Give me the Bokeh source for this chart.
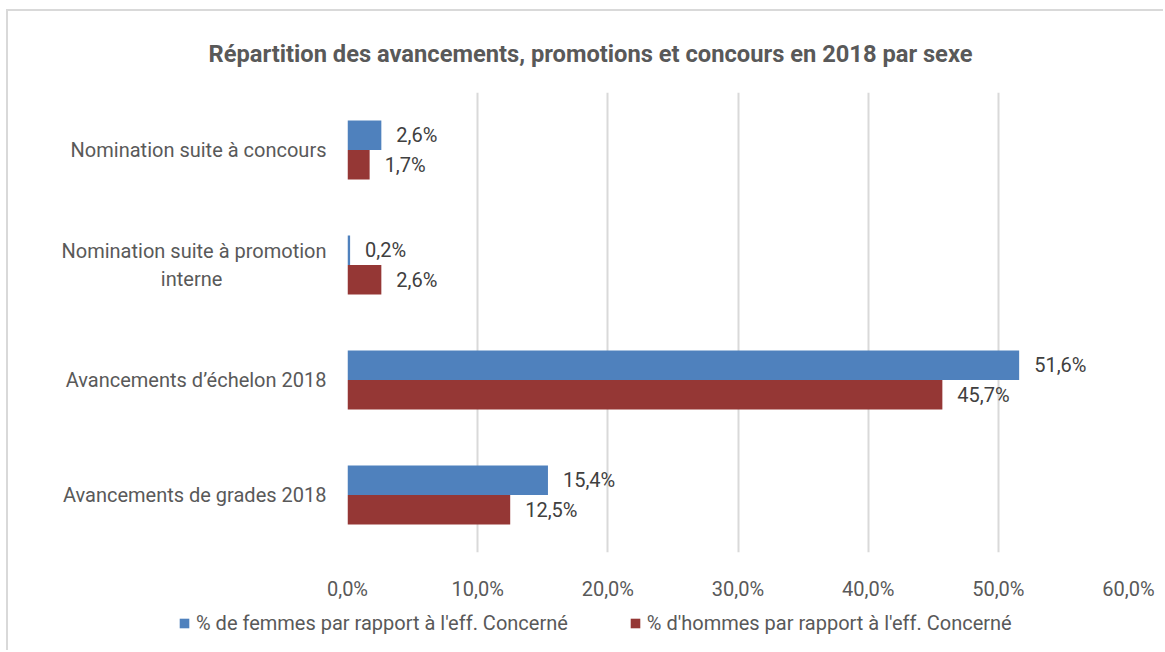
from bokeh.plotting import figure
from bokeh.models import ColumnDataSource, FixedTicker, Legend, LegendItem, Range1d
from bokeh.transform import dodge
from bokeh.core.properties import value
from bokeh.embed import file_html
from bokeh.resources import INLINE

NB = "\u00a0"
categories = ["Avancements de grades 2018", "Avancements d’échelon 2018",
              "Nomination suite à promotion\ninterne" + NB * 21,
              "Nomination suite à concours"]
femmes = [15.4, 51.6, 0.2, 2.6]
hommes = [12.5, 45.7, 2.6, 1.7]
series_names = ["% de femmes par rapport à l'eff. Concerné",
                "% d'hommes par rapport à l'eff. Concerné"]
x_ticks = [0, 10, 20, 30, 40, 50, 60]
x_tick_labels = ["0,0%", "10,0%", "20,0%", "30,0%", "40,0%", "50,0%", "60,0%"]

FONT = "Roboto"
BLUE = "#4F81BD"
RED = "#953735"
GREY = "#595959"
FS = "20px"

pos = list(range(len(categories)))
fmt = lambda v: f"{v:.1f}".replace(".", ",") + "%"
src = ColumnDataSource(dict(
    y=pos, femmes=femmes, hommes=hommes,
    lf=[fmt(v) for v in femmes], lh=[fmt(v) for v in hommes],
))

W = 1157
p = figure(width=W, height=592, output_backend="svg", toolbar_location=None,
           x_range=Range1d(0, 60), y_range=Range1d(-0.5, 3.5),
           min_border_left=339, min_border_right=37, min_border_top=81,
           min_border_bottom=45)
p.margin = (9, 0, 0, 6)
p.styles = {"border-left": "2px solid #d9d9d9", "border-top": "2px solid #d9d9d9"}

bh = 0.257
p.hbar(y=dodge("y", bh / 2), left=0, right="femmes", height=bh, source=src,
       fill_color=BLUE, line_color=None)
p.hbar(y=dodge("y", -bh / 2), left=0, right="hommes", height=bh, source=src,
       fill_color=RED, line_color=None)

for col, lab, off in [("femmes", "lf", bh / 2), ("hommes", "lh", -bh / 2)]:
    p.text(x=col, y=dodge("y", off), text=lab, source=src, x_offset=15,
           text_baseline="middle", text_align="left", text_color="#404040",
           text_font=value(FONT), text_font_size=FS)

p.title.text = "Répartition des avancements, promotions et concours en 2018 par sexe"
p.title.align = "left"
p.title.offset = -139
p.title.text_font = FONT
p.title.text_font_size = "23.7px"
p.title.text_font_style = "bold"
p.title.text_color = GREY
p.title.standoff = 50

p.xaxis.ticker = FixedTicker(ticks=x_ticks)
p.xaxis.major_label_overrides = {t: l for t, l in zip(x_ticks, x_tick_labels)}
p.xaxis.axis_line_color = None
p.xaxis.major_tick_line_color = None
p.xaxis.minor_tick_line_color = None
p.xaxis.major_label_standoff = 18
p.xaxis.major_label_text_font = FONT
p.xaxis.major_label_text_font_size = FS
p.xaxis.major_label_text_color = GREY

p.yaxis.ticker = FixedTicker(ticks=pos)
p.yaxis.major_label_overrides = {i: c for i, c in zip(pos, categories)}
p.yaxis.axis_line_color = None
p.yaxis.major_tick_line_color = None
p.yaxis.minor_tick_line_color = None
p.yaxis.major_label_standoff = 15
p.yaxis.major_label_text_font = FONT
p.yaxis.major_label_text_font_size = FS
p.yaxis.major_label_text_color = GREY

p.xgrid.ticker = FixedTicker(ticks=x_ticks)
p.xgrid.grid_line_color = "#d9d9d9"
p.xgrid.grid_line_width = 2
p.ygrid.grid_line_color = None
p.outline_line_color = None

# legend strip (separate root so its frame spans the full width)
p2 = figure(width=W, height=49, output_backend="svg", toolbar_location=None,
            x_axis_type=None, y_axis_type=None, x_range=Range1d(0, 60),
            y_range=Range1d(-0.5, 3.5), min_border=0)
p2.margin = (0, 0, 0, 6)
p2.styles = {"border-left": "2px solid #d9d9d9"}
p2.outline_line_color = None
p2.grid.grid_line_color = None
lf = p2.hbar(y="y", right="femmes", height=bh, source=src, fill_color=BLUE,
             line_color=None, visible=False)
lh = p2.hbar(y="y", right="hommes", height=bh, source=src, fill_color=RED,
             line_color=None, visible=False)
legend = Legend(items=[LegendItem(label=series_names[0], renderers=[lf]),
                       LegendItem(label=series_names[1], renderers=[lh])],
                orientation="horizontal", location=(170, 15), margin=0, padding=0,
                spacing=61, glyph_width=12, glyph_height=12, label_standoff=6,
                label_text_font=FONT, label_text_font_size=FS,
                label_text_color=GREY, border_line_color=None,
                background_fill_alpha=0, inactive_fill_alpha=0)
p2.add_layout(legend)

open("out.html", "w").write(file_html([p, p2], INLINE))
